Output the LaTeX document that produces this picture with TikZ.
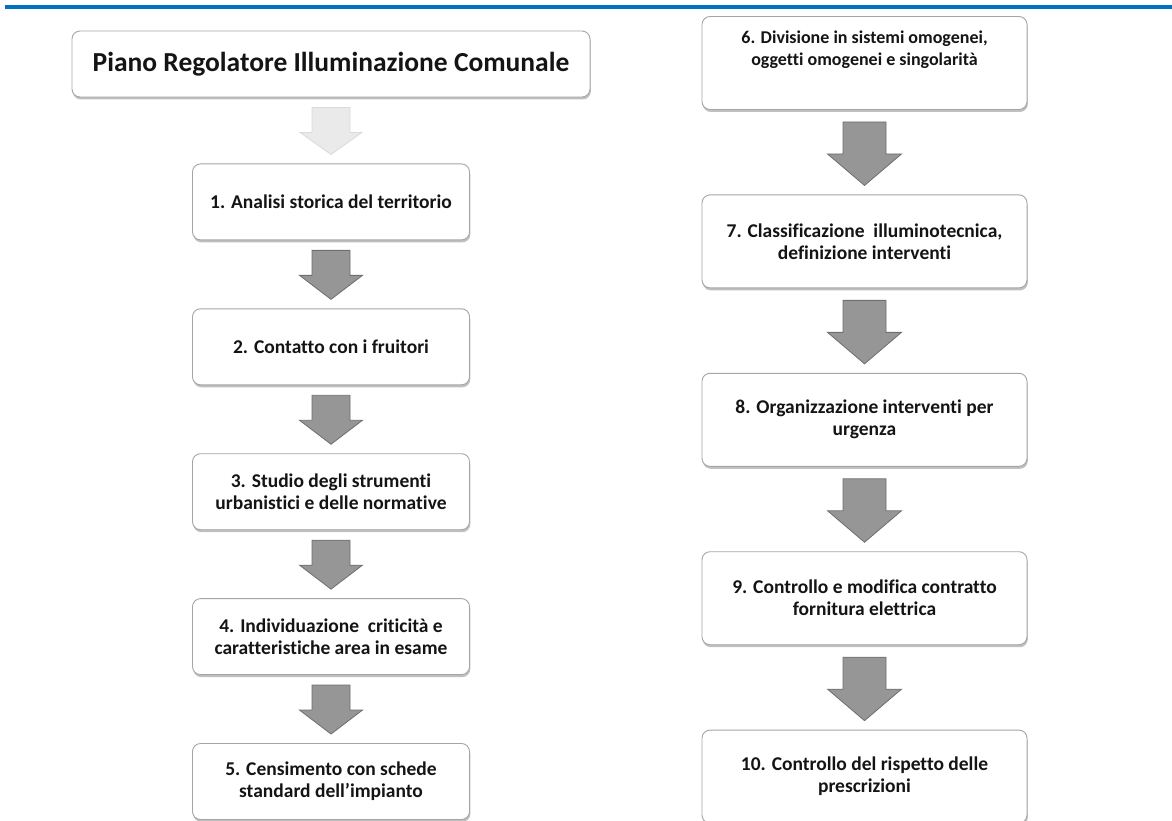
\documentclass[tikz,border=0pt]{standalone}
\usepackage{fontspec}
\setmainfont{Carlito}[Ligatures=NoCommon]
\usetikzlibrary{positioning,calc,shadows}

\definecolor{bluriga}{RGB}{0,112,192}
\definecolor{bordo}{RGB}{165,165,165}
\definecolor{grigiofreccia}{RGB}{150,150,150}
\definecolor{bordofreccia}{RGB}{110,110,110}
\definecolor{grigiochiaro}{RGB}{234,234,234}
\definecolor{bordochiaro}{RGB}{218,218,218}
\definecolor{testo}{RGB}{20,20,20}

% block arrow from one box to the next:
% [style]{from}{to}{half shaft}{half head}{shaft length}{gap}
\newcommand{\freccia}[7][frecciascura]{%
  \draw[#1] ($(#2.south)+(-#4,#7)$) -- ($(#2.south)+(#4,#7)$)
    -- ++(0,#6) -- ++(#5-#4,0) -- ($(#3.north)+(0,-9)$)
    -- ($(#2.south)+(-#5,#7+#6)$) -- ++(#5-#4,0) -- cycle;}

\begin{document}
\begin{tikzpicture}[x=1pt,y=-1pt,node distance=68pt,
  passo/.style={draw=bordo,fill=white,line width=0.9pt,rounded corners=8pt,
    align=center,text=testo,font=\bfseries\fontsize{19.5}{22}\selectfont,
    minimum width=277pt,minimum height=76pt,inner sep=0pt,
    drop shadow={shadow xshift=0.8pt,shadow yshift=-2.5pt,fill=black!55,opacity=0.45}},
  passodx/.style={passo,minimum width=325pt,minimum height=93pt},
  titolobox/.style={passo,minimum width=518pt,minimum height=66pt,
    font=\bfseries\fontsize{27.5}{30}\selectfont},
  frecciascura/.style={fill=grigiofreccia,draw=bordofreccia,line width=0.8pt},
  frecciachiara/.style={fill=grigiochiaro,draw=bordochiaro,line width=0.8pt}]

  \useasboundingbox (0,0) rectangle (1172,821);
  \draw[bluriga,line width=4pt] (5,7) -- (1172,7);

  % left column
  \node[titolobox] (titolo) at (331,64) {Piano Regolatore Illuminazione Comunale};
  \node[passo] (n1) [below=66pt of titolo] {1. Analisi storica del territorio};
  \node[passo] (n2) [below=of n1] {2. Contatto con i fruitori};
  \node[passo] (n3) [below=of n2] {3. Studio degli strumenti\\urbanistici e delle normative};
  \node[passo] (n4) [below=of n3] {4. Individuazione\ \ criticità e\\caratteristiche area in esame};
  \node[passo] (n5) [below=of n4] {5. Censimento con schede\\standard dell’impianto};

  % right column
  \begin{scope}[node distance=84.5pt]
  \node[passodx,font=\bfseries\fontsize{18}{22}\selectfont,text depth=30pt] (n6) at (864.5,63)
    {6. Divisione in sistemi omogenei,\\oggetti omogenei e singolarità};
  \node[passodx] (n7) [below=of n6] {7. Classificazione\ \ illuminotecnica,\\definizione interventi};
  \node[passodx] (n8) [below=of n7] {8. Organizzazione interventi per\\urgenza};
  \node[passodx] (n9) [below=of n8] {9. Controllo e modifica contratto\\fornitura elettrica};
  \node[passodx] (n10) [below=of n9] {10. Controllo del rispetto delle\\prescrizioni};
  \end{scope}

  \freccia[frecciachiara]{titolo}{n1}{19}{31}{25}{10}
  \foreach \a/\b in {n1/n2,n2/n3,n3/n4,n4/n5}
    {\freccia{\a}{\b}{19}{31.5}{25}{10}}
  \foreach \a/\b in {n6/n7,n7/n8,n8/n9,n9/n10}
    {\freccia{\a}{\b}{21.5}{37}{32}{12}}
\end{tikzpicture}
\end{document}
